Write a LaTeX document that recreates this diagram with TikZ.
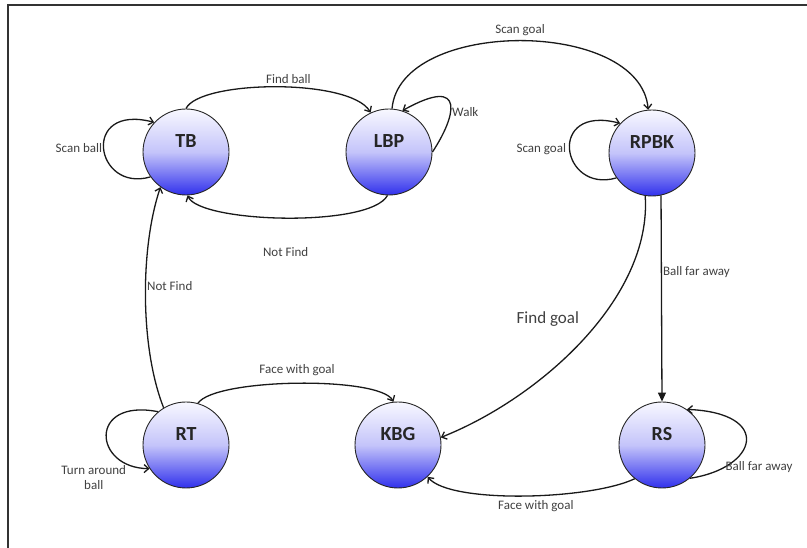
\documentclass[tikz,border=0pt]{standalone}
\usepackage{fontspec}
\setmainfont{Carlito}
\usetikzlibrary{arrows.meta}
\definecolor{stateTop}{RGB}{248,248,255}
\definecolor{stateMid}{RGB}{196,196,250}
\definecolor{stateBottom}{RGB}{48,48,236}

\begin{document}
\begin{tikzpicture}[
  x=1pt,y=1pt,
  line width=1.3pt,
  state/.style={circle,draw=black!85,line width=0.9pt,minimum size=86pt,
    inner sep=0pt,top color=stateTop,bottom color=stateBottom,
    middle color=stateMid,text=black!85,
    font=\fontsize{20}{20}\selectfont\bfseries,
    text height=12pt,text depth=20pt},
  trans/.style={-{Straight Barb[length=4.5pt,width=8pt]},draw=black!90},
  lbl/.style={font=\fontsize{13}{15}\selectfont,text=black!75,inner sep=1pt}
]
  \useasboundingbox (0,0) rectangle (807,548);
  \draw[black!80,line width=1.5pt] (807,543) -- (8,543) -- (8,0);

  % Upper row of states.
  \node[state] (tb) at (186,396) {TB};
  \node[state] (lbp) at (389,396) {LBP};
  \node[state] (rpbk) at (652,395) {RPBK};

  % Lower row of states.
  \node[state] (rt) at (186,103) {RT};
  \node[state] (kbg) at (398,103) {KBG};
  \node[state] (rs) at (662,103) {RS};

  % Looking for the ball.
  \draw[trans] (tb.90) .. controls (200,468) and (350,470) ..
    node[lbl,above=2pt,pos=0.55] (lFindBall) {Find ball} (lbp.115);
  \draw[trans] (lbp.268) .. controls (370,320) and (200,325) ..
    node[lbl,below=28pt] (lNotFindA) {Not Find} (tb.272);
  \draw[trans] (tb.215) .. controls (95,355) and (80,445) ..
    node[lbl,left] (lScanBall) {Scan ball} (tb.137);
  \draw[trans] (lbp.0) .. controls (455,430) and (468,474) ..
    node[lbl,right,pos=0.4] (lWalk) {Walk} (lbp.72);

  % Looking for the goal.
  \draw[trans] (lbp.86) .. controls (400,530) and (640,530) ..
    node[lbl,above=3pt] (lScanGoalA) {Scan goal} (rpbk.95);
  \draw[trans] (rpbk.215) .. controls (561,354) and (546,444) ..
    node[lbl,left=2pt] (lScanGoalB) {Scan goal} (rpbk.137);
  \draw[trans] (rpbk.261) .. controls (652,250) and (540,150) ..
    node[lbl,font=\fontsize{17}{19}\selectfont,left=20pt,pos=0.42]
    (lFindGoal) {Find goal} (kbg.10);
  \draw[-{Triangle[length=9pt,width=8pt]},draw=black!90] (rpbk.282) --
    node[lbl,right,pos=0.37] (lFarA) {Ball far away} (rs.north);
  \draw[trans] (rs.310) .. controls (758,80) and (773,135) ..
    node[lbl,right,pos=0.2] (lFarB) {Ball far away} (rs.55);

  % Kicking towards the goal.
  \draw[trans] (rs.231) .. controls (590,48) and (450,44) ..
    node[lbl,below=3pt,pos=0.45] (lFaceA) {Face with goal} (kbg.313);
  \draw[trans] (rt.74) .. controls (215,170) and (380,172) ..
    node[lbl,above=6pt] (lFaceB) {Face with goal} (kbg.96);
  \draw[trans] (rt.121) .. controls (140,200) and (140,300) ..
    node[lbl,right,pos=0.55] (lNotFindB) {Not Find} (tb.234);
  \draw[trans] (rt.130) .. controls (88,150) and (93,80) ..
    node[lbl,below left,pos=0.85,align=center] (lTurn) {Turn around\\ball}
    (rt.213);
\end{tikzpicture}
\end{document}
